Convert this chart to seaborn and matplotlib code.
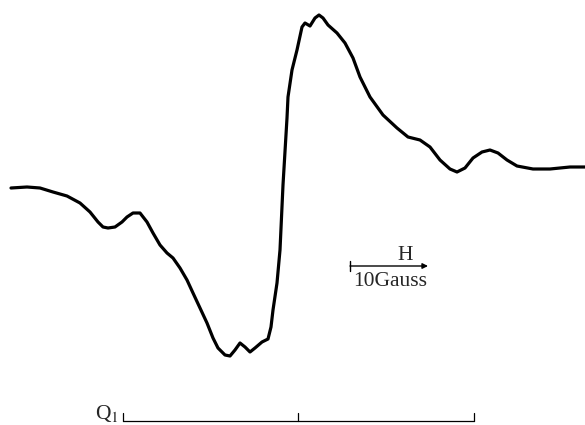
import numpy as np
import pandas as pd
import seaborn as sns
import matplotlib.pyplot as plt

# EPR derivative trace (field position, signal height)
field = [11, 27, 40, 53, 67, 80, 90, 98, 103, 108, 115, 122, 127, 133, 140, 147,
         153, 160, 167, 173, 180, 187, 193, 200, 207, 213, 218, 225, 230, 235,
         240, 245, 250, 255, 262, 268, 271, 273, 277, 280, 283, 287, 288, 292,
         297, 302, 305, 310, 315, 319, 323, 328, 337, 345, 353, 360, 370, 383,
         397, 408, 420, 430, 440, 450, 457, 465, 473, 482, 490, 498, 507, 517,
         533, 550, 570, 585]
signal = [188, 187, 188, 192, 196, 203, 212, 222, 227, 228, 227, 222, 217, 213, 213, 222,
          233, 245, 253, 258, 268, 280, 293, 308, 323, 338, 348, 355, 356, 350,
          343, 347, 352, 348, 342, 339, 327, 310, 283, 250, 185, 118, 97, 70,
          50, 27, 23, 26, 18, 15, 18, 25, 33, 43, 58, 77, 97, 115,
          128, 137, 140, 147, 160, 169, 172, 168, 158, 152, 150, 153, 160, 166,
          169, 169, 167, 167]

# scale bar and Q1 bracket positions
bar_start, bar_end, bar_y = 350, 428, 266
q1_left, q1_mid, q1_right, q1_y = 123, 298, 474, 421

df = pd.DataFrame({"field": field, "signal": signal})

sns.set_style("white")
plt.rcParams['font.family'] = ['Liberation Serif', 'DejaVu Serif']
plt.rcParams['mathtext.fontset'] = 'stix'

fig = plt.figure(figsize=(5.85, 4.25), dpi=100)
ax = fig.add_axes([0, 0, 1, 1])
sns.lineplot(data=df, x="field", y="signal", ax=ax, color="black", linewidth=2.3,
             sort=False, solid_joinstyle="round", solid_capstyle="round")
ax.set_xlim(0, 585)
ax.set_ylim(425, 0)
ax.axis("off")

# 10 Gauss scale with field direction arrow
ax.annotate("", xy=(bar_end, bar_y), xytext=(bar_start, bar_y),
            arrowprops=dict(arrowstyle="-|>", color="black", lw=1.0,
                            mutation_scale=8, shrinkA=0, shrinkB=0))
ax.plot([bar_start, bar_start], [bar_y - 5, bar_y + 5], color="black", lw=1.0)
ax.text(405, 255, "H", fontsize=15.5, ha="center", va="center")
ax.text(390, 281, "10Gauss", fontsize=15.5, ha="center", va="center")

# Q1 bracket
ax.plot([q1_left, q1_right], [q1_y, q1_y], color="black", lw=0.9)
for xt in [q1_left, q1_mid, q1_right]:
    ax.plot([xt, xt], [q1_y, q1_y - 8], color="black", lw=0.9)
ax.text(107, 414, r"Q$_1$", fontsize=15.5, ha="center", va="center")

fig.savefig("out.png", dpi=100)
